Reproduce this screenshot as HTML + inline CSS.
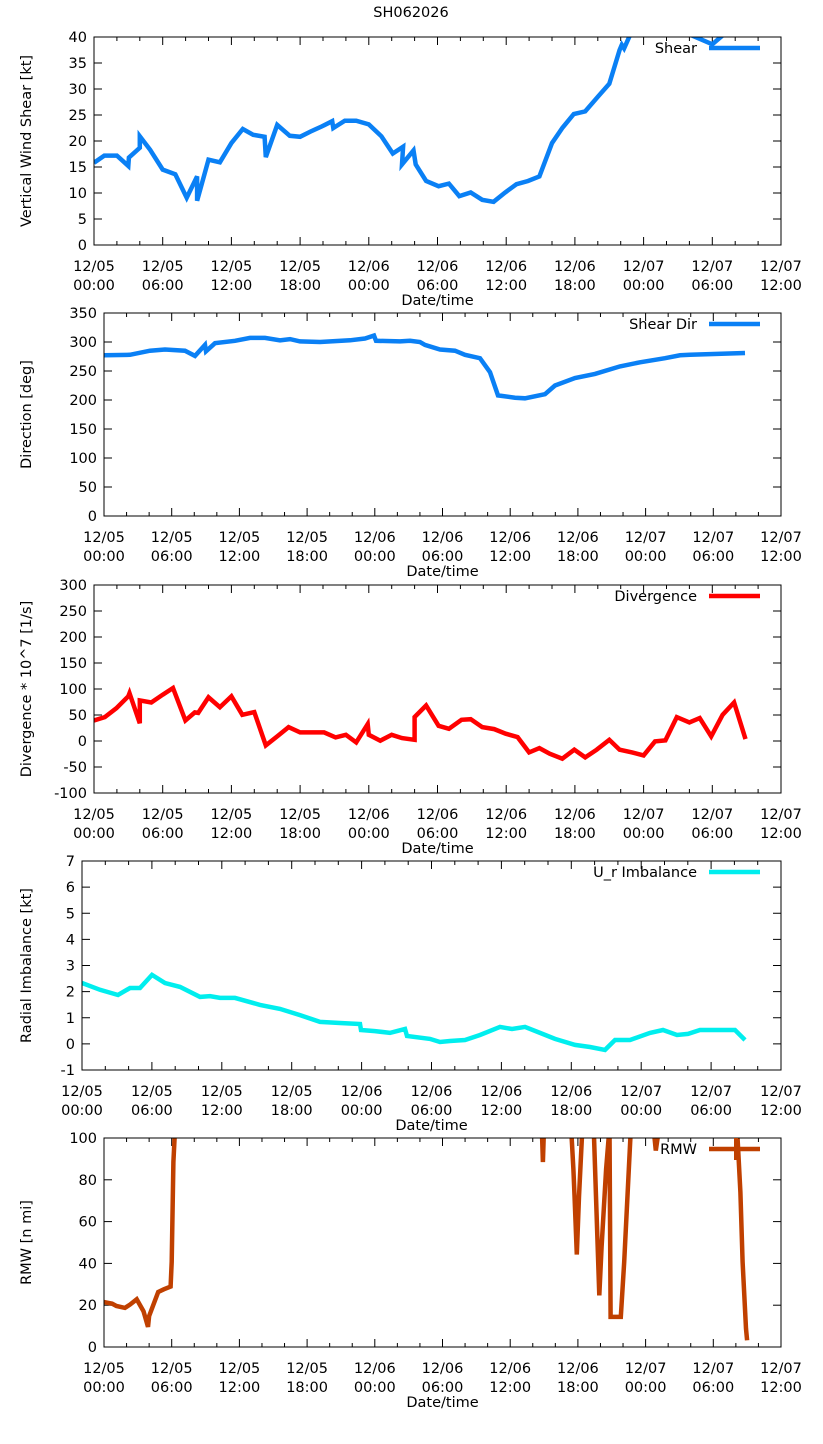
<!DOCTYPE html>
<html><head><meta charset="utf-8"><style>
body{margin:0;background:#fff}
svg text{font-family:"DejaVu Sans","Liberation Sans",sans-serif;font-size:14.5px;fill:#000}
</style></head><body>
<svg id="c" width="823" height="1439" xmlns="http://www.w3.org/2000/svg">
<text x="411" y="17" text-anchor="middle">SH062026</text>
</svg>
<script>
const xTickDays = ["12/05","12/05","12/05","12/05","12/06","12/06","12/06","12/06","12/07","12/07","12/07"];
const xTickTimes = ["00:00","06:00","12:00","18:00","00:00","06:00","12:00","18:00","00:00","06:00","12:00"];
const shearH = [0,0.9,2,3,3.05,4,4,4.9,6,7.1,8.1,9,9,10,11,12,13,13.9,14.9,15,16,17.1,18,18.9,19.9,20.8,20.9,21.9,22.9,24,25.1,26.1,27,26.9,27.9,28.1,29,30.1,31,31.9,32.9,33.9,34.9,35.9,36.9,37.9,38.9,40,40.9,41.9,42.9,44,45,45.9,46.1,46.3,46.8,47.5,50,52.2,54,55.8];
const shearV = [15.8,17.2,17.2,15.2,16.8,18.7,20.9,18.3,14.5,13.6,9.1,13.2,8.5,16.4,15.9,19.6,22.3,21.2,20.8,16.9,23.1,21,20.8,21.8,22.8,23.8,22.5,23.9,23.9,23.2,20.9,17.6,18.9,15.5,18.2,15.5,12.3,11.3,11.8,9.4,10.1,8.7,8.3,10.1,11.7,12.3,13.2,19.6,22.5,25.2,25.7,28.5,31,37.5,38.5,37.8,40.3,45,50,40.3,38.6,42];
const dirX = [104,130,150,165,185,195,205,206,215,235,250,265,280,290,300,320,350,365,374,376,400,410,420,425,440,455,465,480,490,498,515,525,545,555,575,595,620,640,665,680,690,745];
const dirV = [277,278,285,287,285,276,295,284,298,302,307,307,303,305,301,300,303,306,311,302,301,302,300,295,287,285,278,272,248,208,204,203,210,225,238,245,258,265,272,277,278,281];
const divH = [0,0.94,1.96,3,3.1,4,4,5,6,6.9,7.98,8.8,9.1,10,11,12,12.95,14,15,16,17,18,20.1,21.1,22,22.9,23.9,24,25,26,26.9,28,28,29,30.1,31,32.1,32.9,33.9,34.95,35.96,37,38,38.9,39.8,40.9,41.95,42.9,43.9,45,45.9,47,48,49,49.9,50.9,52,52.9,53.9,54.9,55.9,56.9];
const divV = [39.5,46,63,86,92,34,78,74,89,102,39.5,55,54,84,65,86,50.4,55.5,-8.5,8.8,26.7,16.5,16.5,6.9,12,-2.7,32.5,12,0.5,12,5.6,2.4,46,68.3,29.3,23.5,40.8,42,26.7,22.9,14,7.5,-22,-13.6,-24.5,-34,-16.8,-31.5,-16.8,2.4,-16.8,-22,-27.7,-0.8,1.1,46,35.7,44,8.8,50.4,74,3.7];
const urX = [82,100,118,130,140,152,165,180,200,210,220,235,260,280,300,320,340,360,361,375,390,398,405,407,430,440,450,465,480,500,512,525,540,555,575,590,605,615,630,650,663,677,688,700,735,745];
const urV = [2.33,2.07,1.87,2.14,2.14,2.64,2.33,2.18,1.8,1.83,1.76,1.76,1.49,1.34,1.1,0.84,0.8,0.76,0.53,0.49,0.42,0.5,0.57,0.3,0.19,0.07,0.11,0.15,0.34,0.65,0.57,0.65,0.42,0.19,-0.04,-0.12,-0.23,0.15,0.15,0.42,0.53,0.34,0.38,0.53,0.53,0.15];
const rmwH = [0,0.72,1.1,1.85,2.3,2.9,3.5,3.9,4,4.8,5.3,5.9,6,6.15,6.3,null,38.8,38.9,39.0,null,41.4,41.6,41.7,41.9,42.1,42.4,null,43.4,43.6,43.9,44.1,44.5,44.8,44.9,45.8,46.1,46.7,null,48.7,48.9,49.2,null,56.1,56.4,56.6,56.9,57];
const rmwV = [21.5,20.7,19.6,18.7,20.3,22.8,17.1,9.6,14.8,26.3,27.6,28.9,40.7,88.5,105,null,105,88.5,105,null,105,85,72.6,44.2,72,105,null,105,72,24.7,48,85,105,14.4,14.4,40.7,105,null,105,94,105,null,105,74,40.7,8.8,3.2];

const svg=document.getElementById('c');
const NS='http://www.w3.org/2000/svg';
function mk(tag,attrs,parent){const e=document.createElementNS(NS,tag);for(const k in attrs)e.setAttribute(k,attrs[k]);(parent||svg).appendChild(e);return e;}

function panel(p){
  const g=mk('g',{});
  
  
  const X=h=>p.x0+(p.x1-p.x0)*h/60;
  const Y=v=>p.y1-(p.y1-p.y0)*(v-p.ymin)/(p.ymax-p.ymin);
  const cid='clip-'+p.name;
  const cp=mk('clipPath',{id:cid},g);mk('rect',{x:p.x0,y:p.y0,width:p.x1-p.x0,height:p.y1-p.y0},cp);
  for(let h=0;h<=60;h+=2){const L=h%6==0?8:4;
    mk('line',{x1:X(h),x2:X(h),y1:p.y1,y2:p.y1-L,stroke:'#000'},g);
    mk('line',{x1:X(h),x2:X(h),y1:p.y0,y2:p.y0+L,stroke:'#000'},g);}
  for(let i=0;i<xTickDays.length;i++){const h=i*6;
    const t=mk('text',{x:X(h),y:p.y1+26,'text-anchor':'middle'},g);t.textContent=xTickDays[i];
    
    
    const t2=mk('text',{x:X(h),y:p.y1+45,'text-anchor':'middle'},g);t2.textContent=xTickTimes[i];}
  for(let v=p.ymin;v<=p.ymax+1e-9;v+=p.ystep){
    mk('line',{x1:p.x0,x2:p.x0+8,y1:Y(v),y2:Y(v),stroke:'#000'},g);
    mk('line',{x1:p.x1,x2:p.x1-8,y1:Y(v),y2:Y(v),stroke:'#000'},g);
    const t=mk('text',{x:p.x0-7,y:Y(v)+5,'text-anchor':'end'},g);t.textContent=v;
    
    }
  const xl=mk('text',{x:(p.x0+p.x1)/2,y:p.y1+60,'text-anchor':'middle'},g);xl.textContent='Date/time';
  
  
  const cy=(p.y0+p.y1)/2;
  const yl=mk('text',{x:31,y:cy,'text-anchor':'middle',transform:`rotate(-90 31 ${cy})`},g);yl.textContent=p.ylabel;
  
  
  let d='',pen=false;
  for(let i=0;i<p.hs.length;i++){const h=p.hs[i],v=p.vs[i];
    if(h===null||v===null){pen=false;continue;}
    d+=(pen?'L':'M')+X(h).toFixed(1)+' '+Y(v).toFixed(1)+' ';pen=true;}
  const path=mk('path',{d:d,fill:'none',stroke:p.color,'stroke-width':4.5,'stroke-linejoin':'miter','clip-path':`url(#${cid})`},g);
  
  
  mk('rect',{x:p.x0,y:p.y0,width:p.x1-p.x0,height:p.y1-p.y0,fill:'none',stroke:'#000','stroke-width':1},g);
  const lt=mk('text',{x:697,y:p.y0+16,'text-anchor':'end'},g);lt.textContent=p.legend;
  
  
  mk('line',{x1:709,x2:760,y1:p.y0+11,y2:p.y0+11,stroke:p.color,'stroke-width':4.5},g);
  if(p.name==='rmw')mk('line',{x1:736,x2:736,y1:p.y0,y2:p.y0+22,stroke:p.color,'stroke-width':4},g);
}
panel({name:'shear',x0:94,x1:781,y0:37,y1:245,ymin:0,ymax:40,ystep:5,hs:shearH,vs:shearV,color:'#0a80f5',legend:'Shear',ylabel:'Vertical Wind Shear [kt]'});
panel({name:'shear-dir',x0:104,x1:781,y0:313,y1:516,ymin:0,ymax:350,ystep:50,hs:dirX.map(x=>(x-104)*60/677),vs:dirV,color:'#0a80f5',legend:'Shear Dir',ylabel:'Direction [deg]'});
panel({name:'divergence',x0:94,x1:781,y0:585,y1:793,ymin:-100,ymax:300,ystep:50,hs:divH,vs:divV,color:'#ff0000',legend:'Divergence',ylabel:'Divergence * 10^7 [1/s]'});
panel({name:'radial-imbalance',x0:82,x1:781,y0:861,y1:1070,ymin:-1,ymax:7,ystep:1,hs:urX.map(x=>(x-82)*60/699),vs:urV,color:'#00eeee',legend:'U_r Imbalance',ylabel:'Radial Imbalance [kt]'});
panel({name:'rmw',x0:104,x1:781,y0:1138,y1:1347,ymin:0,ymax:100,ystep:20,hs:rmwH,vs:rmwV,color:'#c04000',legend:'RMW',ylabel:'RMW [n mi]'});
</script>
</body></html>
